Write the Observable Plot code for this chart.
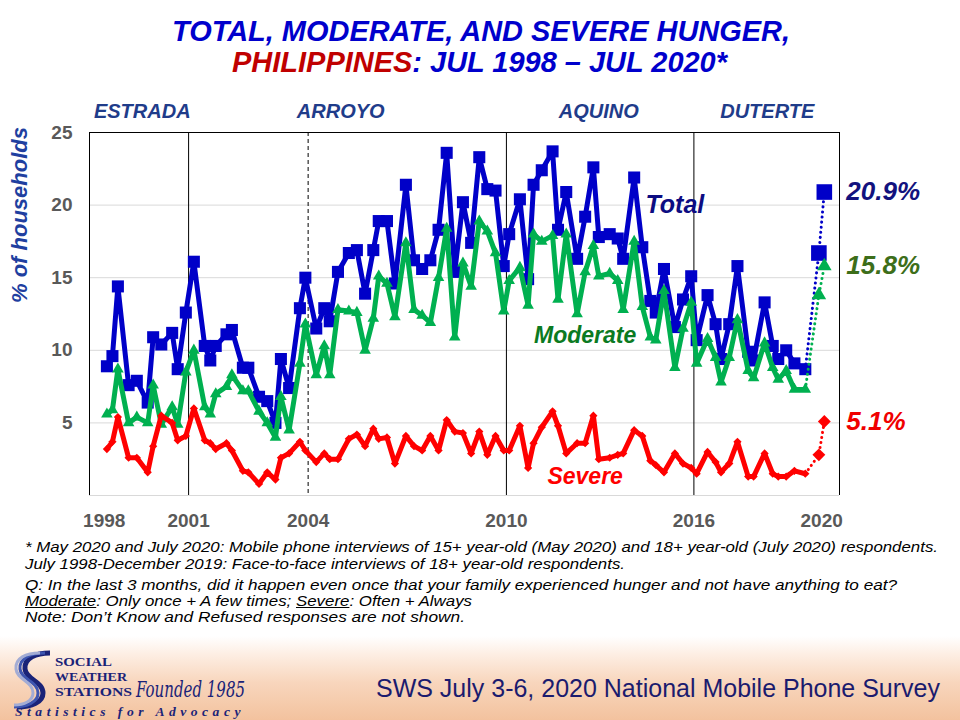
<!DOCTYPE html>
<html>
<head>
<meta charset="utf-8">
<script src="https://cdn.jsdelivr.net/npm/d3@7"></script>
<script src="https://cdn.jsdelivr.net/npm/@observablehq/plot@0.6"></script>
<style>
  html, body { margin: 0; padding: 0; background: #fff; }
  #page { position: relative; width: 960px; height: 720px; overflow: hidden; background: #fff;
          font-family: "Liberation Sans", Arial, sans-serif; }
  .line { position: absolute; white-space: nowrap; line-height: 1; transform-origin: 0 0; }
  .title { font-weight: bold; font-style: italic; font-size: 30px; color: #0000cc; }
  .title .country { color: #c00000; }
  .note { font-style: italic; font-size: 14px; color: #000;
          font-family: "Liberation Sans Narrow", "Liberation Sans", Arial, sans-serif; }
  #chart { position: absolute; left: 0; top: 80px; }
  #banner { position: absolute; left: 0; top: 636px; width: 960px; height: 84px;
            background: linear-gradient(to bottom, #ffffff 0%, #fdeee3 22%, #f8d6bd 55%, #f3c29e 100%); }
  .logo { font-family: "Liberation Serif", "Times New Roman", serif; font-weight: bold; color: #1a2378;
          font-size: 13.5px; line-height: 0.8; }
  .founded { font-family: "DejaVu Serif", serif; font-style: italic; color: #1a2378; font-size: 22px; line-height: 0.9; }
  .motto { font-family: "Liberation Serif", serif; font-weight: bold; font-style: italic; color: #1a2378;
           font-size: 12px; letter-spacing: 4px; line-height: 0.9; }
  .survey { font-size: 26px; color: #1b1b6e; }
  #swoosh { position: absolute; left: 12px; top: 650px; }
</style>
</head>
<body>
<div id="page">
  <div class="line title" style="left:172px; top:15.6px" data-w="618">TOTAL, MODERATE, AND SEVERE HUNGER,</div>
  <div class="line title" style="left:232px; top:46.6px" data-w="495"><span class="country">PHILIPPINES</span>: JUL 1998 – JUL 2020*</div>

  <div id="chart"></div>

  <div class="line note" style="left:25px; top:540.15px" data-w="913">* May 2020 and July 2020: Mobile phone interviews of 15+ year-old (May 2020) and 18+ year-old (July 2020) respondents.</div>
  <div class="line note" style="left:25px; top:557.15px" data-w="600">July 1998-December 2019: Face-to-face interviews of 18+ year-old respondents.</div>
  <div class="line note" style="left:25px; top:578.15px" data-w="872">Q: In the last 3 months, did it happen even once that your family experienced hunger and not have anything to eat?</div>
  <div class="line note" style="left:25px; top:594.15px" data-w="447"><u>Moderate</u>: Only once + A few times; <u>Severe</u>: Often + Always</div>
  <div class="line note" style="left:25px; top:610.15px" data-w="440">Note: Don’t Know and Refused responses are not shown.</div>

  <div id="banner"></div>
  <svg id="swoosh" width="40" height="60" viewBox="0 0 40 60">
    <g fill="none" stroke-linecap="butt">
      <path d="M38,3 C24,3 12,8 13,19 C14,30 31,31 31,43 C31,52 20,57 5,57" stroke="#1a2378" stroke-width="5"/>
      <path d="M33,3 C19,3 7,8 8,19 C9,30 26,31 26,43 C26,52 15,57 2,57" stroke="#3d55b0" stroke-width="3"/>
      <path d="M28,3 C14,3 3,8 4,19 C5,30 21,31 21,43 C21,51 12,55 2,55" stroke="#a3acd4" stroke-width="3"/>
    </g>
  </svg>
  <div class="line logo" style="left:55px; top:657px" data-w="57">SOCIAL</div>
  <div class="line logo" style="left:55px; top:672px" data-w="72">WEATHER</div>
  <div class="line logo" style="left:55px; top:687px" data-w="77">STATIONS</div>
  <div class="line founded" style="left:136px; top:680px" data-w="109">Founded 1985</div>
  <div class="line motto" style="left:15px; top:706.5px" data-w="230">Statistics for Advocacy</div>
  <div class="line survey" style="left:376px; top:674.6px" data-w="564">SWS July 3-6, 2020 National Mobile Phone Survey</div>
</div>

<script>
// ---- Survey data: share of households experiencing hunger (%) ----
const surveyDates = [
  "1998-07","1998-09","1998-11","1999-03","1999-06","1999-10","1999-12","2000-03","2000-07","2000-09",
  "2000-12","2001-03","2001-07","2001-09","2001-11","2002-03","2002-05","2002-09","2002-11","2003-03",
  "2003-06","2003-09","2003-11","2004-02","2004-06","2004-08","2004-12","2005-03","2005-05","2005-08",
  "2005-12","2006-03","2006-06","2006-09","2006-11","2007-02","2007-05","2007-09","2007-12","2008-03",
  "2008-06","2008-09","2008-12","2009-03","2009-06","2009-09","2009-12","2010-03","2010-06","2010-09",
  "2010-11","2011-03","2011-06","2011-08","2011-11","2012-03","2012-05","2012-08","2012-12","2013-03",
  "2013-06","2013-08","2013-12","2014-03","2014-05","2014-09","2014-12","2015-03","2015-05","2015-08",
  "2015-12","2016-03","2016-06","2016-08","2016-12","2017-03","2017-05","2017-08","2017-11","2018-03",
  "2018-05","2018-09","2018-12","2019-02","2019-05","2019-08","2019-12","2020-05","2020-07"
];
const totalHunger = [
  8.9, 9.6, 14.4, 7.6, 7.9, 6.4, 10.9, 10.4, 11.2, 8.7,
  12.6, 16.1, 10.3, 9.3, 10.3, 11.1, 11.4, 8.8, 8.8, 6.8,
  6.5, 5.0, 9.4, 7.4, 12.9, 15.0, 11.5, 12.9, 12.0, 15.4,
  16.7, 16.9, 13.9, 16.9, 18.9, 18.9, 14.6, 21.4, 16.2, 15.6,
  16.2, 18.3, 23.6, 15.4, 20.2, 17.4, 23.3, 21.1, 21.0, 15.8,
  18.0, 20.4, 14.9, 21.4, 22.4, 23.7, 18.3, 20.9, 16.3, 19.2,
  22.6, 17.8, 18.0, 17.7, 16.3, 21.9, 17.1, 13.4, 12.6, 15.6,
  11.6, 13.5, 15.1, 10.7, 13.8, 11.8, 9.4, 11.8, 15.8, 9.9,
  9.3, 13.3, 10.3, 9.4, 10.0, 9.1, 8.7, 16.7, 20.9
];
const moderateHunger = [
  5.6, 5.9, 8.7, 5.0, 5.4, 5.0, 7.6, 4.9, 6.1, 4.9,
  8.5, 10.0, 6.1, 5.6, 7.0, 7.5, 8.3, 7.2, 7.2, 5.8,
  5.0, 4.0, 6.8, 4.5, 9.1, 11.8, 8.3, 10.3, 8.3, 12.8,
  12.7, 12.6, 10.0, 12.2, 15.1, 14.6, 12.3, 17.4, 12.8, 12.4,
  11.9, 15.0, 18.4, 10.9, 16.0, 14.4, 18.9, 18.2, 16.7, 12.7,
  14.8, 15.7, 13.1, 18.0, 17.5, 17.9, 13.5, 18.0, 12.5, 15.4,
  17.2, 15.1, 15.3, 14.8, 12.8, 17.5, 13.0, 10.9, 10.7, 14.1,
  8.8, 11.5, 13.3, 9.1, 10.8, 9.5, 7.8, 9.5, 12.1, 8.6,
  8.1, 10.5, 8.8, 8.0, 8.6, 7.3, 7.3, 13.8, 15.8
];
const severeHunger = [
  3.2, 3.7, 5.4, 2.6, 2.6, 1.6, 3.4, 5.5, 5.0, 3.8,
  4.1, 6.0, 3.8, 3.6, 3.2, 3.6, 3.1, 1.7, 1.6, 0.8,
  1.6, 1.1, 2.6, 2.9, 3.7, 3.1, 2.3, 2.9, 2.5, 2.5,
  3.9, 4.2, 3.4, 4.6, 3.9, 4.0, 2.2, 4.1, 3.4, 3.1,
  4.1, 3.1, 5.2, 4.4, 4.3, 2.9, 4.4, 2.8, 4.1, 3.1,
  3.1, 4.8, 1.9, 3.6, 4.7, 5.8, 4.8, 2.9, 3.6, 3.6,
  5.5, 2.5, 2.6, 2.8, 2.9, 4.5, 4.1, 2.4, 2.1, 1.6,
  2.9, 2.2, 1.9, 1.5, 3.0, 2.3, 1.6, 2.2, 3.7, 1.3,
  1.3, 2.9, 1.5, 1.3, 1.3, 1.7, 1.5, 2.8, 5.1
];
// Surveys done by mobile phone instead of face-to-face
const phoneSurveyDates = ["2020-05", "2020-07"];

// ---- Axes ----
const xExtent = ["1998-01-01", "2021-01-01"];
const yTicks = [5, 10, 15, 20, 25];
const yGrid = [0, 5, 10, 15, 20];
const xTickDates = ["1998-06", "2001-01", "2004-09", "2010-10", "2016-07", "2020-06"];
const xTickLabels = ["1998", "2001", "2004", "2010", "2016", "2020"];

// ---- Administrations ----
const presidents = ["ESTRADA", "ARROYO", "AQUINO", "DUTERTE"];
const presidentLabelDates = ["1999-08", "2005-09", "2013-08", "2018-10"];
const termBreaks = ["2001-01", "2004-09", "2010-10", "2016-07"];
const termBreakKinds = ["succession", "re-election", "succession", "succession"];

// ---- Series names and where their names are written ----
const seriesNames = ["Total", "Moderate", "Severe"];
const seriesLabelDates = ["2015-12", "2013-03", "2013-03"];
const seriesLabelValues = [20.0, 11.0, 1.3];

const parseMonth = s => new Date(Date.UTC(+s.slice(0, 4), +s.slice(5, 7) - 1, 15));

const look = {
  Total:    {line: "#0000c8", name: "#0c0c82", value: "#12127e", symbol: "square",   r: 6.8, rPhone: 8.8, nameSize: 25},
  Moderate: {line: "#00b050", name: "#0b7a22", value: "#3d6e1a", symbol: "triangle", r: 4.3, rPhone: 5.4, nameSize: 23},
  Severe:   {line: "#ff0000", name: "#ff0000", value: "#f00000", symbol: "diamond2", r: 3.7, rPhone: 5.8, nameSize: 23}
};

const valuesBySeries = {Total: totalHunger, Moderate: moderateHunger, Severe: severeHunger};
const rows = surveyDates.flatMap((d, i) => seriesNames.map(s => ({
  key: d, date: parseMonth(d), series: s, value: valuesBySeries[s][i], phone: phoneSurveyDates.includes(d)
})));
const lastFaceToFace = surveyDates.filter(d => !phoneSurveyDates.includes(d)).at(-1);

const seriesMarks = seriesNames.flatMap(s => {
  const st = look[s];
  const mine = rows.filter(r => r.series === s);
  const f2f = mine.filter(r => !r.phone);
  const modeChange = mine.filter(r => r.phone || r.key === lastFaceToFace);
  const phone = mine.filter(r => r.phone);
  return [
    Plot.line(f2f, {x: "date", y: "value", stroke: st.line, strokeWidth: 5}),
    Plot.line(modeChange, {x: "date", y: "value", stroke: st.line, strokeWidth: 3,
                           strokeDasharray: "0.1,5", strokeLinecap: "round"}),
    Plot.dot(f2f, {x: "date", y: "value", symbol: st.symbol, r: st.r, fill: st.line}),
    Plot.dot(phone, {x: "date", y: "value", symbol: st.symbol, r: st.rPhone, fill: st.line})
  ];
});

const labelMarks = seriesNames.flatMap((s, i) => {
  const st = look[s];
  const last = rows.filter(r => r.series === s).at(-1);
  return [
    Plot.text([s], {x: () => parseMonth(seriesLabelDates[i]), y: () => seriesLabelValues[i], text: d => d,
                    fill: st.name, fontSize: st.nameSize, fontWeight: "bold", fontStyle: "italic"}),
    Plot.text([last], {x: "date", y: "value", text: d => d.value.toFixed(1) + "%", dx: 22, textAnchor: "start",
                       fill: st.value, fontSize: 26, fontWeight: "bold", fontStyle: "italic"})
  ];
});

const tickLabelByTime = new Map(xTickDates.map((d, i) => [+parseMonth(d), xTickLabels[i]]));

const chart = Plot.plot({
  width: 960,
  height: 455,
  marginLeft: 89,
  marginRight: 121,
  marginTop: 52,
  marginBottom: 40,
  x: {type: "utc", domain: xExtent.map(d => new Date(d))},
  y: {domain: [0, 25]},
  style: {fontFamily: "'Liberation Sans', Arial, sans-serif", background: "transparent", overflow: "visible"},
  marks: [
    Plot.ruleY(yGrid, {stroke: "#d9d9d9", strokeWidth: 1}),
    Plot.ruleX(termBreaks.filter((d, i) => termBreakKinds[i] === "succession").map(parseMonth),
               {stroke: "#000", strokeWidth: 1}),
    Plot.ruleX(termBreaks.filter((d, i) => termBreakKinds[i] === "re-election").map(parseMonth),
               {stroke: "#000", strokeWidth: 1, strokeDasharray: "4,3"}),
    Plot.ruleY([25], {stroke: "#000", strokeWidth: 1}),
    Plot.ruleX(xExtent.map(d => new Date(d)), {stroke: "#000", strokeWidth: 1}),
    ...seriesMarks,
    ...labelMarks,
    Plot.text(presidents, {x: (d, i) => parseMonth(presidentLabelDates[i]), frameAnchor: "top", dy: -29,
                           text: d => d, fill: "#1f3c8a", fontSize: 20, fontWeight: "bold", fontStyle: "italic"}),
    Plot.text(["% of households"], {frameAnchor: "left", text: d => d, rotate: -90, dx: -70, dy: -11,
                                    fill: "#1f3fa0", fontSize: 22, fontWeight: "bold", fontStyle: "italic"}),
    Plot.axisY(yTicks, {tickSize: 0, tickPadding: 17, label: null, color: "#595959",
                        fontSize: 19, fontWeight: "bold"}),
    Plot.axisX(xTickDates.map(parseMonth), {tickSize: 0, tickPadding: 18, label: null, color: "#595959",
                        fontSize: 19, fontWeight: "bold", tickFormat: d => tickLabelByTime.get(+d)})
  ]
});
document.getElementById("chart").append(chart);

// Squeeze or stretch each text line to its set width
document.querySelectorAll("[data-w]").forEach(el => {
  const w = el.getBoundingClientRect().width;
  if (w > 0) el.style.transform = `scaleX(${(+el.dataset.w / w).toFixed(4)})`;
});
</script>
</body>
</html>
